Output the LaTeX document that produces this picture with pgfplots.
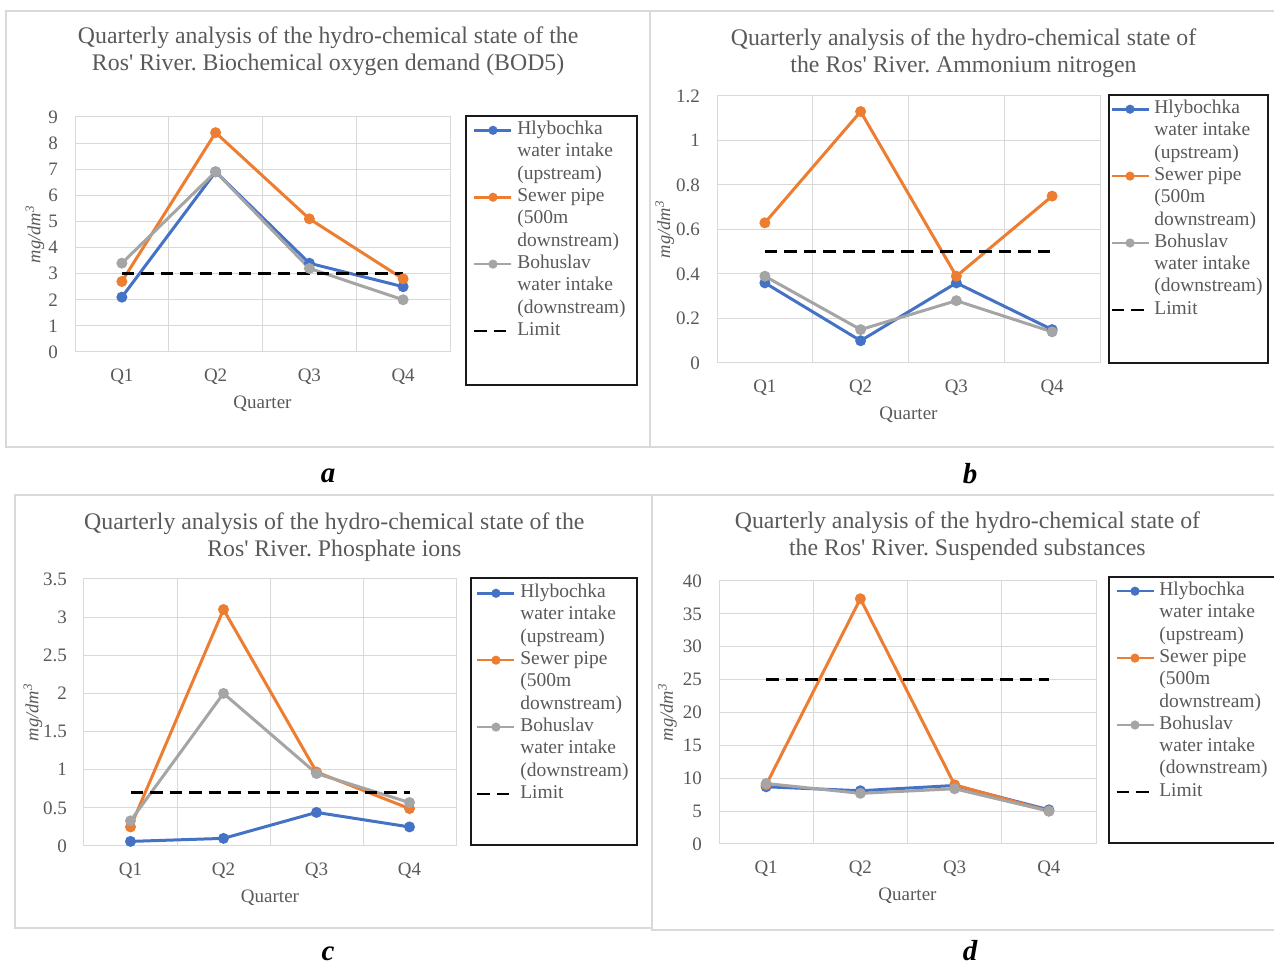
\documentclass[border=0pt]{standalone}
\usepackage{fontspec}
\setmainfont{Liberation Serif}
\usepackage{pgfplots}
\pgfplotsset{compat=1.18}
\definecolor{sblue}{HTML}{4472C4}
\definecolor{sorange}{HTML}{ED7D31}
\definecolor{sgray}{HTML}{A5A5A5}
\definecolor{txt}{HTML}{595959}
\definecolor{gridc}{HTML}{D9D9D9}
\frenchspacing
\newcommand{\sq}{\XeTeXglyph\XeTeXcharglyph"27\relax}

\pgfplotsset{
  panel/.style={
    scale only axis,
    xmin=0, xmax=4, ymin=0,
    xtick={0.5,1.5,2.5,3.5},
    xticklabels={Q1,Q2,Q3,Q4},
    minor xtick={0,1,2,3,4},
    xmajorgrids=false, xminorgrids=true, ymajorgrids=true,
    grid style={draw=gridc, line width=1pt},
    minor grid style={draw=gridc, line width=1pt},
    axis line style={draw=gridc, line width=1pt},
    major tick length=0pt, minor tick length=0pt,
    tick style={draw=none},
    /pgf/number format/assume math mode=true,
    tick label style={font=\fontsize{19}{19}\selectfont, text=txt},
    yticklabel style={inner xsep=0pt, xshift=-17pt},
    xticklabel style={anchor=base, yshift=-30pt},
    xlabel={Quarter},
    ylabel={\textit{mg/dm\textsuperscript{3}}},
    xlabel style={font=\fontsize{19}{19}\selectfont, text=txt, anchor=base},
    ylabel style={font=\fontsize{18.5}{18.5}\selectfont, text=txt, anchor=center},
    title style={anchor=center, align=center, font=\fontsize{23.8}{27}\selectfont, text=txt},
    legend cell align=left,
    legend style={draw=none, fill=none, anchor=north west, inner sep=0pt,
      row sep=0pt, column sep=4.5pt,
      font=\fontsize{19.5}{19.5}\selectfont, text=txt,
      nodes={inner sep=0pt, text height=15.5pt, text depth=6.8pt}},
    legend image code/.code={\draw[mark repeat=2, mark phase=2, line width=2.6pt, ##1, mark size=3.2pt] plot coordinates {(0pt,0pt) (18.5pt,0pt) (37pt,0pt)};},
  },
  ser/.style={line width=3pt, mark=*, mark size=3.9pt, mark options={solid}},
  lim/.style={black, line width=3.2pt, dash pattern=on 12.5pt off 7pt, no marks},
}

\begin{document}
\begin{tikzpicture}[x=1pt,y=1pt]
\useasboundingbox (0pt,0pt) rectangle (1274pt,965pt);
% panel frames
\draw[gridc, line width=1.2pt] (6pt,518pt) rectangle (650pt,954pt);
\draw[gridc, line width=1.2pt] (650pt,518pt) rectangle (1285pt,954pt);
\draw[gridc, line width=1.2pt] (15pt,37pt) rectangle (652pt,470pt);
\draw[gridc, line width=1.2pt] (652pt,35pt) rectangle (1285pt,470pt);
% legend frames
\draw[black!90, line width=1.5pt] (466pt,580pt) rectangle (637pt,849pt);
\draw[black!90, line width=1.5pt] (1109pt,602pt) rectangle (1268pt,870pt);
\draw[black!90, line width=1.5pt] (471pt,120pt) rectangle (637pt,387pt);
\draw[black!90, line width=1.5pt] (1109pt,122pt) rectangle (1275pt,388pt);
% panel letters
\node[anchor=base, font=\fontsize{29}{29}\selectfont\bfseries\itshape] at (328pt,482pt) {a};
\node[anchor=base, font=\fontsize{29}{29}\selectfont\bfseries\itshape] at (970pt,481pt) {b};
\node[anchor=base, font=\fontsize{29}{29}\selectfont\bfseries\itshape] at (328pt,4.5pt) {c};
\node[anchor=base, font=\fontsize{29}{29}\selectfont\bfseries\itshape] at (970pt,4.5pt) {d};

% ---------- a ----------
\begin{axis}[panel, at={(75pt,613pt)}, anchor=south west, width=375pt, height=235pt,
  ymax=9, ytick={0,1,...,9},
  title={Quarterly analysis of the hydro-chemical state of the\\Ros\sq{} River. Biochemical oxygen demand (BOD5)},
  title style={at={(axis description cs:0.675,1.253)}},
  xlabel style={at={(axis description cs:0.5,-0.2426)}},
  ylabel style={at={(axis description cs:-0.1067,0.5)}},
  legend style={at={(axis description cs:1.0613,0.9915)}}]
\addplot[ser, sblue] coordinates {(0.5,2.1) (1.5,6.9) (2.5,3.4) (3.5,2.5)};
\addlegendentry{Hlybochka}
\addlegendimage{empty legend}\addlegendentry{water intake}
\addlegendimage{empty legend}\addlegendentry{(upstream)}
\addplot[ser, sorange] coordinates {(0.5,2.7) (1.5,8.4) (2.5,5.1) (3.5,2.8)};
\addlegendentry{Sewer pipe}
\addlegendimage{empty legend}\addlegendentry{(500m}
\addlegendimage{empty legend}\addlegendentry{downstream)}
\addplot[ser, sgray] coordinates {(0.5,3.4) (1.5,6.9) (2.5,3.2) (3.5,2.0)};
\addlegendentry{Bohuslav}
\addlegendimage{empty legend}\addlegendentry{water intake}
\addlegendimage{empty legend}\addlegendentry{(downstream)}
\addplot[lim] coordinates {(0.5,3) (1.5,3) (2.5,3) (3.5,3)};
\addlegendentry{Limit}
\end{axis}

% ---------- b ----------
\begin{axis}[panel, at={(717pt,602pt)}, anchor=south west, width=383pt, height=267pt,
  ymax=1.2, ytick={0,0.2,0.4,0.6,0.8,1,1.2},
  title={Quarterly analysis of the hydro-chemical state of\\the Ros\sq{} River. Ammonium nitrogen},
  title style={at={(axis description cs:0.6436,1.1367)}},
  xlabel style={at={(axis description cs:0.5,-0.2135)}},
  ylabel style={at={(axis description cs:-0.1365,0.5)}},
  legend style={at={(axis description cs:1.0262,0.993)}}]
\addplot[ser, sblue] coordinates {(0.5,0.36) (1.5,0.10) (2.5,0.36) (3.5,0.15)};
\addlegendentry{Hlybochka}
\addlegendimage{empty legend}\addlegendentry{water intake}
\addlegendimage{empty legend}\addlegendentry{(upstream)}
\addplot[ser, sorange] coordinates {(0.5,0.63) (1.5,1.13) (2.5,0.39) (3.5,0.75)};
\addlegendentry{Sewer pipe}
\addlegendimage{empty legend}\addlegendentry{(500m}
\addlegendimage{empty legend}\addlegendentry{downstream)}
\addplot[ser, sgray] coordinates {(0.5,0.39) (1.5,0.15) (2.5,0.28) (3.5,0.14)};
\addlegendentry{Bohuslav}
\addlegendimage{empty legend}\addlegendentry{water intake}
\addlegendimage{empty legend}\addlegendentry{(downstream)}
\addplot[lim] coordinates {(0.5,0.5) (1.5,0.5) (2.5,0.5) (3.5,0.5)};
\addlegendentry{Limit}
\end{axis}

% ---------- c ----------
\begin{axis}[panel, at={(84pt,119pt)}, anchor=south west, width=372pt, height=267pt,
  ymax=3.5, ytick={0,0.5,1,1.5,2,2.5,3,3.5},
  title={Quarterly analysis of the hydro-chemical state of the\\Ros\sq{} River. Phosphate ions},
  title style={at={(axis description cs:0.673,1.133)}},
  xlabel style={at={(axis description cs:0.5,-0.2135)}},
  ylabel style={at={(axis description cs:-0.137,0.5)}},
  legend style={at={(axis description cs:1.0537,0.989)}}]
\addplot[ser, sblue] coordinates {(0.5,0.06) (1.5,0.10) (2.5,0.44) (3.5,0.25)};
\addlegendentry{Hlybochka}
\addlegendimage{empty legend}\addlegendentry{water intake}
\addlegendimage{empty legend}\addlegendentry{(upstream)}
\addplot[ser, sorange] coordinates {(0.5,0.25) (1.5,3.1) (2.5,0.97) (3.5,0.49)};
\addlegendentry{Sewer pipe}
\addlegendimage{empty legend}\addlegendentry{(500m}
\addlegendimage{empty legend}\addlegendentry{downstream)}
\addplot[ser, sgray] coordinates {(0.5,0.33) (1.5,2.0) (2.5,0.95) (3.5,0.57)};
\addlegendentry{Bohuslav}
\addlegendimage{empty legend}\addlegendentry{water intake}
\addlegendimage{empty legend}\addlegendentry{(downstream)}
\addplot[lim] coordinates {(0.5,0.7) (1.5,0.7) (2.5,0.7) (3.5,0.7)};
\addlegendentry{Limit}
\end{axis}

% ---------- d ----------
\begin{axis}[panel, at={(719pt,121pt)}, anchor=south west, width=377pt, height=263pt,
  ymax=40, ytick={0,5,...,40},
  title={Quarterly analysis of the hydro-chemical state of\\the Ros\sq{} River. Suspended substances},
  title style={at={(axis description cs:0.659,1.147)}},
  xlabel style={at={(axis description cs:0.5,-0.213)}},
  ylabel style={at={(axis description cs:-0.137,0.5)}},
  legend style={at={(axis description cs:1.0504,1.0044)}}]
\addplot[ser, sblue] coordinates {(0.5,8.7) (1.5,8.1) (2.5,8.9) (3.5,5.2)};
\addlegendentry{Hlybochka}
\addlegendimage{empty legend}\addlegendentry{water intake}
\addlegendimage{empty legend}\addlegendentry{(upstream)}
\addplot[ser, sorange] coordinates {(0.5,9.0) (1.5,37.3) (2.5,9.0) (3.5,5.0)};
\addlegendentry{Sewer pipe}
\addlegendimage{empty legend}\addlegendentry{(500m}
\addlegendimage{empty legend}\addlegendentry{downstream)}
\addplot[ser, sgray] coordinates {(0.5,9.2) (1.5,7.7) (2.5,8.4) (3.5,5.0)};
\addlegendentry{Bohuslav}
\addlegendimage{empty legend}\addlegendentry{water intake}
\addlegendimage{empty legend}\addlegendentry{(downstream)}
\addplot[lim] coordinates {(0.5,25) (1.5,25) (2.5,25) (3.5,25)};
\addlegendentry{Limit}
\end{axis}
\end{tikzpicture}
\end{document}
